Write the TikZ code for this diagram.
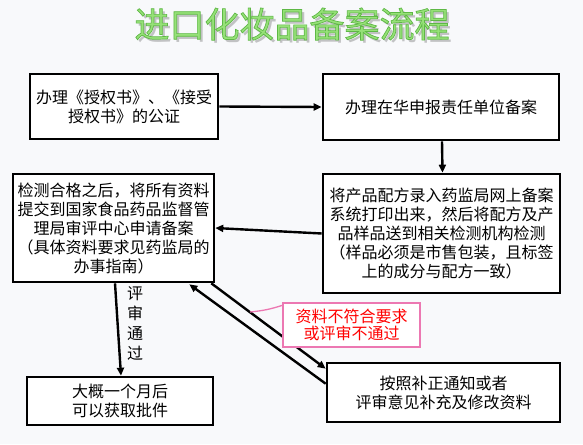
\documentclass[tikz,border=0pt]{standalone}
\usepackage{fontspec}
\newfontfamily\cjk{Noto Sans CJK SC}
\usetikzlibrary{arrows.meta}
\definecolor{bgc}{RGB}{248,249,251}
\definecolor{ttlgreen}{RGB}{150,225,120}
\definecolor{pinkc}{RGB}{236,120,178}
\definecolor{redc}{RGB}{255,0,0}
\newcommand{\ttloutline}[1]{\special{pdf:literal 0.37 0.72 0.27 RG 0.7 w 2 Tr}#1\special{pdf:literal 0 Tr}}
\tikzset{
  box/.style={draw=black, line width=2.6pt, fill=white, inner sep=0pt, align=center,
    font=\cjk\fontsize{16}{19}\selectfont},
  flow/.style={line width=2.4pt, -{Triangle[length=8pt,width=7pt]}},
  lblbox/.style={draw=pinkc, line width=1.3pt, fill=white, inner sep=0pt, align=center,
    text=redc, font=\cjk\fontsize{16}{17}\selectfont},
  vlabel/.style={align=center, inner sep=0pt, font=\cjk\fontsize{16}{20}\selectfont},
  ttl/.style={inner sep=0pt, font=\cjk\fontsize{35}{40}\selectfont}
}
\begin{document}
\begin{tikzpicture}[x=1pt,y=-1pt]
\useasboundingbox (0,0) rectangle (583,444);
\fill[bgc] (0,0) rectangle (583,444);
% title with soft shadow
\node[ttl, text=black, opacity=0.22] (titleshadow) at (295,27) {进口化妆品备案流程};
\node[ttl, text=ttlgreen] (title) at (292,24) {\ttloutline{进口化妆品备案流程}};
% boxes
\node[box, minimum width=188pt, minimum height=65pt] (b1) at (124,106.5)
  {办理《授权书》、《接受\\授权书》的公证};
\node[box, minimum width=236pt, minimum height=66pt] (b2) at (441,107)
  {办理在华申报责任单位备案};
\node[box, minimum width=201pt, minimum height=108pt] (b3) at (113.5,228)
  {检测合格之后，将所有资料\\提交到国家食品药品监督管\\理局审评中心申请备案\\（具体资料要求见药监局的\\办事指南）};
\node[box, minimum width=237pt, minimum height=119pt] (b4) at (441.5,233.5)
  {将产品配方录入药监局网上备案\\系统打印出来，然后将配方及产\\品样品送到相关检测机构检测\\（样品必须是市售包装，且标签\\上的成分与配方一致）};
\node[box, minimum width=186pt, minimum height=48pt] (b5) at (120,401)
  {大概一个月后\\可以获取批件};
\node[box, minimum width=233pt, minimum height=59pt] (b6) at (443.5,392.5)
  {按照补正通知或者\\评审意见补充及修改资料};
% connectors
\draw[flow] (b1.east) -- (b2.west);
\draw[flow] ([xshift=1pt]b2.south) -- ([xshift=1pt]b4.north);
\draw[flow] (b4.west) -- (b3.east);
\draw[flow] ([xshift=1.5pt]b3.south) -- ([xshift=1pt]b5.north);
\draw[flow] ([xshift=-4pt]b3.south east) -- ([yshift=-7pt]b6.north west);
\draw[flow] ([yshift=-22pt]b6.north west) -- ([xshift=-26pt,yshift=-1pt]b3.south east);
\node[vlabel] (pass) at (135,323) {评\\审\\通\\过};
% annotation
\coordinate (pk) at (250,312);
\node[lblbox, minimum width=137pt, minimum height=44pt] (lbl) at (351.5,325)
  {资料不符合要求\\或评审不通过};
\draw[pinkc, line width=1.3pt] ([yshift=-3pt]lbl.north west) to[bend left=6] (pk);
\end{tikzpicture}
\end{document}
